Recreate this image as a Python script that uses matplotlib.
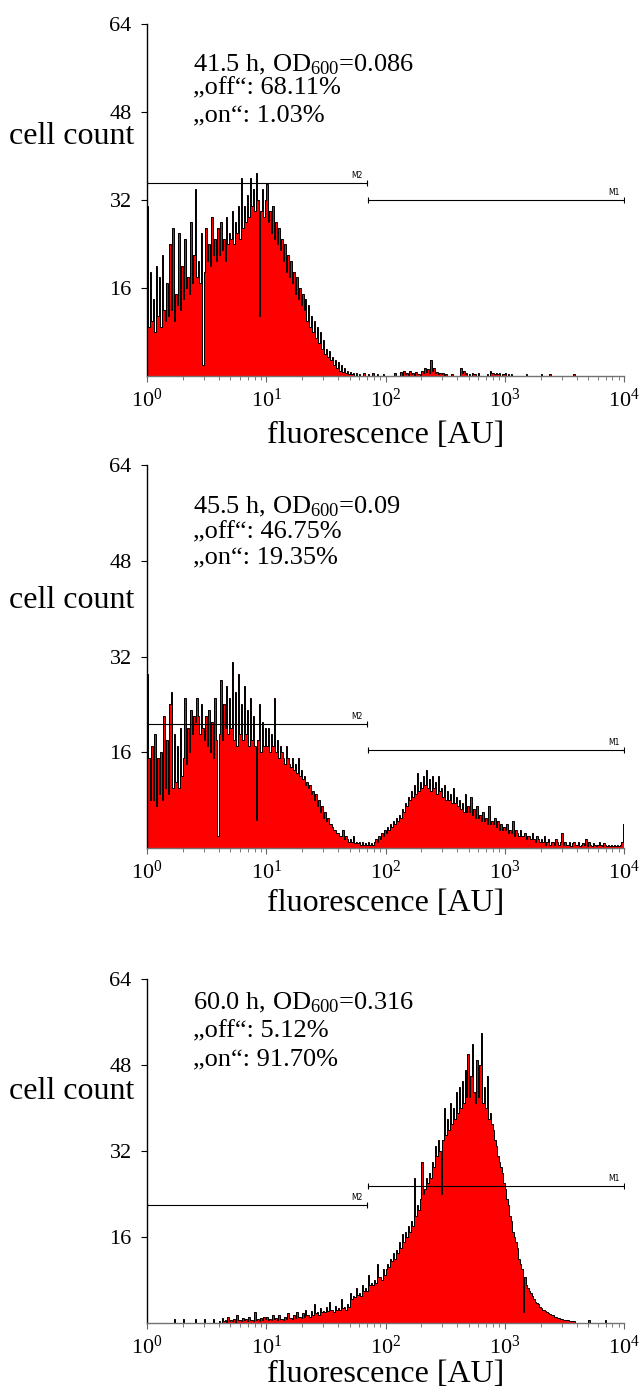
import numpy as np
import matplotlib
matplotlib.use("Agg")
import matplotlib.pyplot as plt
from matplotlib.ticker import LogLocator, LogFormatterMathtext, NullFormatter

plt.rcParams['font.family'] = ['Liberation Serif', 'DejaVu Serif']
plt.rcParams['mathtext.fontset'] = 'custom'
plt.rcParams['mathtext.rm'] = 'Liberation Serif'
plt.rcParams['mathtext.it'] = 'Liberation Serif:italic'
plt.rcParams['mathtext.bf'] = 'Liberation Serif:bold'

# --- sample info ---
times = ['41.5', '45.5', '60.0']
od600 = ['0.086', '0.09', '0.316']
pct_off = ['68.11', '46.75', '5.12']
pct_on = ['1.03', '19.35', '91.70']

# gate markers: M2 = "off" region, M1 = "on" region
m2_range = [1, 70]
m1_range = [72, 10000]
m2_level = [35.1, 20.7, 22.0]
m1_level = [32.0, 16.3, 25.5]

# histogram counts, 80 log-spaced channels per decade (1 .. 10^4)
counts_41h = [
    # 1 - 10
    31, 9, 19, 10, 14, 8, 20, 11,
    18, 9, 22, 12, 10, 17, 11, 24,
    12, 27, 10, 15, 13, 26, 12, 20,
    14, 25, 16, 18, 15, 28, 17, 22,
    34, 18, 21, 17, 26, 2, 19, 27,
    21, 24, 20, 29, 22, 25, 21, 27,
    22, 28, 23, 25, 21, 29, 24, 26,
    25, 30, 24, 28, 26, 31, 25, 36,
    27, 31, 28, 33, 29, 36, 31, 34,
    30, 37, 32, 11, 30, 34, 29, 32,
    # 10 - 100
    35, 28, 30, 26, 31, 25, 28, 24,
    27, 23, 25, 21, 24, 19, 22, 18,
    21, 17, 19, 15, 18, 14, 16, 13,
    15, 12, 14, 10, 13, 9, 11, 8,
    10, 7, 9, 6, 8, 5, 6.5, 4,
    5, 3.5, 4.5, 3, 3.5, 2, 3, 1.5,
    2.5, 1, 2, 0.8, 1.5, 0.5, 1, 0.3,
    0.8, 0.3, 0.5, 0, 0.5, 0, 0.4, 0,
    0, 0.5, 0, 0, 0.4, 0, 0, 0.5,
    0, 0, 0.4, 0, 0, 0, 0.3, 0,
    # 100 - 1000
    0, 0, 0, 0, 0, 0, 0.5, 0,
    0, 0, 0.7, 0, 1, 0.4, 0.5, 0,
    1, 0.3, 0.6, 0, 0.8, 0.4, 0.4, 0,
    1, 0.5, 1.5, 0.8, 1.2, 0.6, 3, 1,
    1.5, 0.6, 0.8, 0.3, 0.6, 0.4, 0.5, 0,
    0.4, 0, 0, 0, 0.4, 0, 0, 0,
    0, 0, 1.5, 0.6, 1, 0.4, 0.5, 0,
    0.4, 0, 0.5, 0.3, 0.3, 0, 0.5, 0,
    0, 0, 0, 0, 0.4, 0, 1, 0.5,
    0.5, 0.3, 0.6, 0.3, 0.5, 0, 0.4, 0.3,
    # 1000 - 10000
    0.5, 0, 0.3, 0, 0.4, 0, 0, 0,
    0, 0, 0, 0, 0, 0, 0.4, 0,
    0, 0, 0, 0, 0, 0, 0, 0,
    0.4, 0, 0, 0, 0, 0, 0.4, 0,
    0, 0, 0, 0, 0, 0, 0, 0,
    0, 0, 0, 0, 0, 0, 0.4, 0,
    0, 0, 0, 0, 0, 0, 0, 0,
    0, 0, 0, 0, 0, 0, 0, 0,
    0, 0, 0, 0, 0, 0, 0, 0,
    0, 0, 0, 0, 0, 0, 0, 0,
]
counts_45h = [
    # 1 - 10
    29, 15, 8, 17, 8, 19, 7, 15,
    9, 16, 8, 22, 10, 18, 9, 24,
    26, 10, 19, 11, 17, 10, 20, 12,
    15, 25, 14, 20, 16, 23, 19, 22,
    21, 25, 22, 19, 24, 20, 18, 22,
    17, 23, 16, 21, 15, 25, 18, 2,
    19, 28, 18, 24, 20, 27, 19, 25,
    20, 31, 18, 26, 17, 29, 19, 24,
    18, 27, 19, 23, 17, 25, 18, 22,
    17, 4.7, 18, 24, 16, 21, 17, 20,
    # 10 - 100
    17, 20, 16, 19, 17, 25, 16, 18,
    15, 17, 16, 15, 14, 17, 15, 14,
    13.5, 15, 13, 14, 12.5, 15, 12, 13,
    11.5, 12, 10.5, 11, 10, 10.5, 9, 9.5,
    8, 9, 7, 8, 6, 7, 5, 6,
    4.5, 5, 4, 4, 3.5, 3, 3, 2.5,
    2.5, 2, 2, 3, 1.5, 2, 1.5, 1,
    1.5, 1, 2, 0.8, 1, 0.8, 1, 0.5,
    1, 0.5, 0.8, 0.5, 1, 0.5, 0.8, 0.5,
    1, 1.5, 1, 2, 1.5, 2.5, 2, 3,
    # 100 - 1000
    2.5, 3.5, 3, 4, 3.5, 4.5, 4, 5,
    4.5, 5.5, 5, 6.5, 6, 7.5, 7, 8.5,
    8, 9.5, 8.5, 10.5, 9, 12.5, 9.5, 11,
    10, 12, 10.5, 13, 10, 11.5, 9.5, 12,
    10, 11, 9, 12, 9.5, 10, 8.5, 10.5,
    8, 9.5, 8, 9, 7.5, 10, 7.5, 8.5,
    7, 8, 6.5, 7.5, 6, 9, 6, 7,
    6, 8.5, 5.5, 6.5, 5, 7, 5, 5.5,
    4.5, 6, 4.5, 5, 4, 7, 4, 4.5,
    4, 5, 3.5, 4.5, 3, 4, 3, 3.5,
    # 1000 - 10000
    3, 4, 2.5, 3, 2.5, 4.5, 2, 3,
    2.5, 2, 3, 2, 2, 2.5, 1.5, 2,
    2, 1.5, 2.5, 1.5, 1, 2, 1.5, 1,
    1.5, 1, 2, 0.5, 1, 1.5, 0.5, 1,
    1, 0.5, 1.5, 1, 0.5, 1, 2.5, 0.5,
    1, 0.5, 0.5, 1, 0.3, 0.8, 1, 0.5,
    0.5, 1, 0.3, 0.5, 0.8, 0.5, 1.5, 0.3,
    1, 0.5, 0.3, 0.8, 0.5, 0.3, 0.5, 1,
    0.5, 0.3, 0.8, 0.5, 0.3, 0.5, 0.3, 0.5,
    0.3, 0.5, 0.3, 0.5, 0.3, 0.5, 1, 4,
]
counts_60h = [
    # 1 - 10
    0, 0, 0, 0, 0, 0, 0, 0,
    0, 0, 0, 0, 0, 0, 0, 0,
    0, 0, 0.8, 0, 0, 0, 0, 0,
    0.8, 0, 0, 0, 0, 0, 0, 0,
    0.8, 0, 0, 0, 0, 0, 0.8, 0,
    0, 0, 0, 0, 0.8, 0, 0, 0,
    0.3, 0, 1, 0.3, 0.5, 0, 1.2, 0.4,
    0.5, 0.3, 0.8, 0, 1.5, 0.5, 0.5, 0.3,
    1, 0.5, 0.7, 0.3, 1.2, 0.6, 0.5, 0.3,
    2, 0.5, 0.8, 0.4, 1, 0.6, 1.2, 0.8,
    # 10 - 100
    1.2, 0.6, 0.8, 0.5, 1.5, 0.8, 1, 0.6,
    1.5, 0.8, 0.8, 0.5, 1.2, 0.8, 1.8, 1,
    1, 0.8, 1.5, 1, 2, 1.2, 1.2, 1,
    1.8, 1.2, 2.5, 1.5, 1.5, 1.2, 2.2, 1.5,
    3.5, 1.8, 2, 1.5, 2.8, 2, 2.2, 2,
    3, 2.2, 4, 2.5, 2.5, 2, 3.2, 2.5,
    2.8, 2.4, 4.5, 2.8, 3, 2.5, 3.5, 3,
    5.5, 4.5, 5, 4.8, 6.5, 5.2, 5.5, 5,
    7, 6, 6.5, 6, 9, 7, 7.5, 7,
    8, 7.5, 11, 8.5, 8.5, 8, 10, 9,
    # 100 - 1000
    10, 11, 10.5, 12, 11.5, 13, 12, 13.5,
    13, 15, 14, 16.5, 15, 17, 16, 18,
    17, 19, 18, 27, 20, 22, 21, 23,
    30, 24, 25, 27, 26, 28, 27, 30,
    29, 33, 31, 34, 32, 24, 34, 40,
    35, 38, 36, 41, 37, 40, 38, 43,
    39, 44, 40, 45, 41, 47, 42, 50,
    42, 46, 52, 43, 41, 49, 42, 48,
    54, 41, 44, 40, 46, 38, 39, 37,
    36, 34, 33, 31, 30, 29, 28, 26,
    # 1000 - 10000
    25, 23, 22, 20, 19, 17, 16, 15,
    14, 12, 11, 10, 2, 8.5, 7, 6.5,
    6, 5.5, 5, 4.5, 4, 3.8, 3.5, 3,
    2.8, 2.5, 2.5, 2.2, 2, 1.8, 1.6, 1.5,
    1.4, 1.2, 1.2, 1, 1, 0.8, 0.8, 0.6,
    0.6, 0.5, 0.5, 0.4, 0.3, 0.3, 0.3, 0,
    0, 0, 0, 0, 0, 0, 0, 0,
    0.5, 0, 0, 0, 0, 0, 0, 0,
    0, 0, 0, 0.5, 0, 0, 0, 0,
    0, 0, 0, 0, 0, 0, 0, 0,
]
counts = [counts_41h, counts_45h, counts_60h]
edges = np.logspace(0, 4, len(counts_41h) + 1)

fig = plt.figure(figsize=(6.43, 13.89), dpi=100)
W, H = 643, 1389
# axes rectangles in pixels: left, axis baseline, width, height
rects = [(147, 376, 477, 352), (147, 848, 477, 383), (147, 1323, 477, 344)]
text_y = [(56.6, 52.3, 47.4), (57.0, 52.8, 48.5), (59.5, 54.3, 49.0)]
ylab_y = [43.5, 41.3, 43.0]
xlab_pad = [7, 4, 1]

for k in range(3):
    l, b, w, h = rects[k]
    ax = fig.add_axes([l / W, 1 - b / H, w / W, h / H])
    vals = np.array(counts[k], dtype=float)
    ax.stairs(vals, edges, fill=True, color='#ff0000', lw=0)
    ax.stairs(vals, edges, color='black', lw=0.7)

    ax.set_xscale('log')
    ax.set_xlim(1, 1e4)
    ax.set_ylim(0, 64)
    ax.set_yticks([16, 32, 48, 64])
    ax.xaxis.set_major_locator(LogLocator(base=10, numticks=10))
    ax.xaxis.set_major_formatter(LogFormatterMathtext())
    ax.xaxis.set_minor_locator(LogLocator(base=10, subs=np.arange(2, 10), numticks=20))
    ax.xaxis.set_minor_formatter(NullFormatter())
    ax.tick_params(axis='y', direction='out', length=4, width=0.8, labelsize=16, pad=7)
    ax.tick_params(axis='x', which='major', direction='out', length=4, width=0.8,
                   color='0.4', labelsize=16, pad=5)
    ax.tick_params(axis='x', which='minor', direction='out', length=3, width=0.6, color='0.4')
    for s in ['top', 'right']:
        ax.spines[s].set_visible(False)
    ax.spines['left'].set_color('black')
    ax.spines['left'].set_linewidth(1.0)
    ax.spines['bottom'].set_color('0.45')
    ax.spines['bottom'].set_linewidth(1.0)

    # gates
    ax.plot(m2_range, [m2_level[k]] * 2, color='black', lw=0.8, marker='|', ms=5, mew=0.8)
    ax.plot(m1_range, [m1_level[k]] * 2, color='black', lw=0.8, marker='|', ms=5, mew=0.8)
    ax.text(58, m2_level[k] + 0.6, 'M2', fontsize=5.5, family='DejaVu Sans',
            ha='center', va='bottom')
    ax.text(8200, m1_level[k] + 0.6, 'M1', fontsize=5.5, family='DejaVu Sans',
            ha='center', va='bottom')

    # sample annotation
    ty = text_y[k]
    ax.text(2.45, ty[0], '%s h, OD$_{600}$=%s' % (times[k], od600[k]), fontsize=19,
            ha='left', va='center')
    ax.text(2.45, ty[1], '\u201eoff\u201c: %s%%' % pct_off[k], fontsize=19,
            ha='left', va='center')
    ax.text(2.45, ty[2], '\u201eon\u201c: %s%%' % pct_on[k], fontsize=19,
            ha='left', va='center')

    ax.text(-0.027, ylab_y[k], 'cell count', transform=ax.get_yaxis_transform(),
            fontsize=23, ha='right', va='center')
    ax.set_xlabel('fluorescence [AU]', fontsize=23, labelpad=xlab_pad[k])

fig.savefig('out.png', dpi=100)
